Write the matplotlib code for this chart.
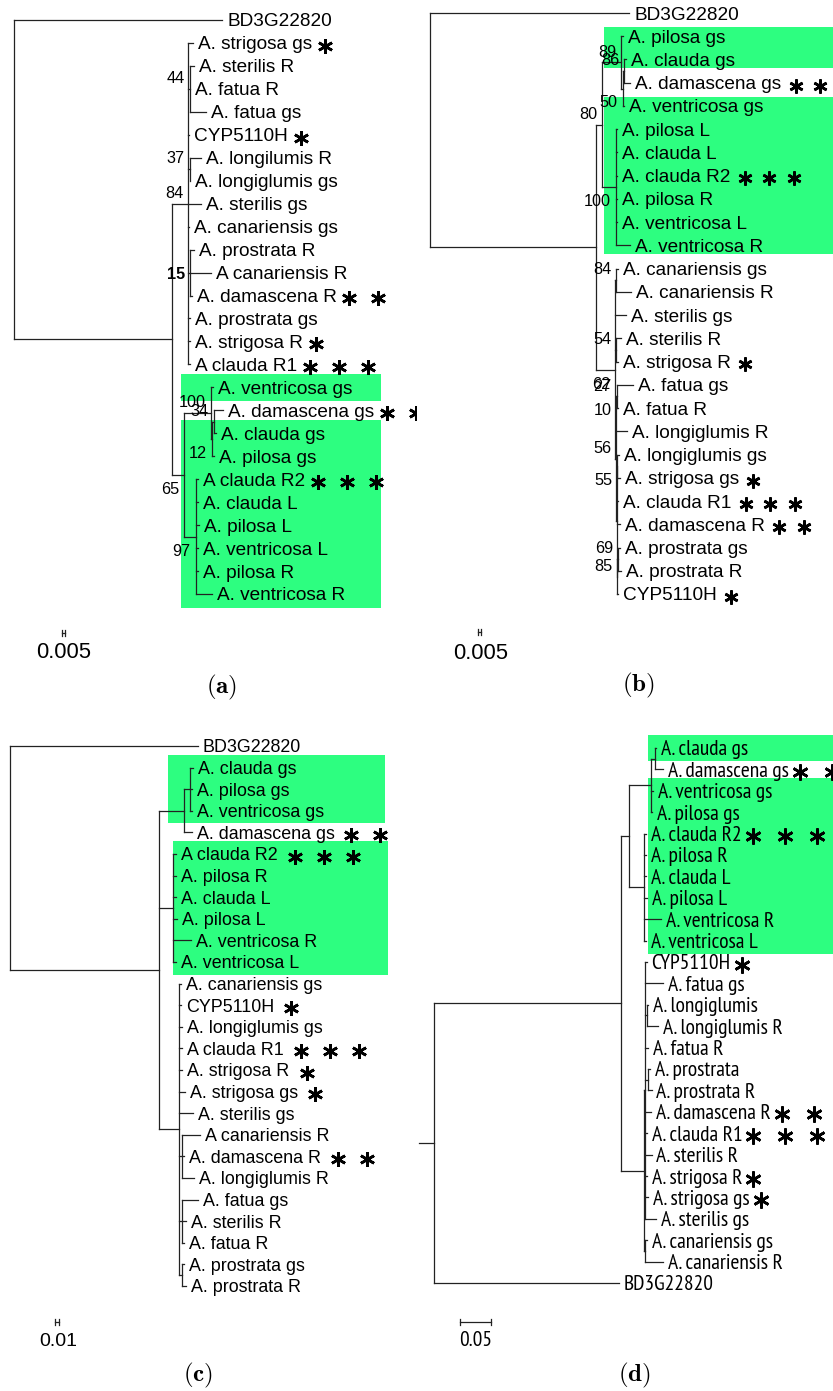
import matplotlib
matplotlib.use('Agg')
import matplotlib.pyplot as plt
import matplotlib.transforms as mtransforms
from matplotlib.collections import LineCollection
from matplotlib.patches import Rectangle

plt.rcParams['mathtext.fontset'] = 'cm'

## Trees (Newick, top-to-bottom leaf order, branch lengths in substitutions/site)
TREE_A = ("('BD3G22820':0.347,"
          "(('A. strigosa gs':0.008,('A. sterilis R':0.007,'A. fatua R':0.000,'A. fatua gs':0.027)44:0.003,"
          "'CYP5110H':0.002,('A. longilumis R':0.018,'A. longiglumis gs':0.000)37:0.003,"
          "'A. sterilis gs':0.022,'A. canariensis gs':0.002,"
          "('A. prostrata R':0.007,'A canariensis R':0.035,'A. damascena R':0.003)15:0.003,"
          "'A. prostrata gs':0.003,'A. strigosa R':0.003,'A clauda R1':0.003)84:0.027,"
          "(('A. ventricosa gs':0.003,(('A. damascena gs':0.015,'A. clauda gs':0.003)34:0.003,'A. pilosa gs':0.003)12:0.002)100:0.045,"
          "('A clauda R2':0.003,'A. clauda L':0.003,'A. pilosa L':0.005,'A. ventricosa L':0.003,"
          "'A. pilosa R':0.003,'A. ventricosa R':0.027)97:0.020)65:0.020):0.263);")

TREE_B = ("('BD3G22820':0.332,"
          "((('A. pilosa gs':0.002,(('A. clauda gs':0.003,'A. damascena gs':0.010)86:0.003,'A. ventricosa gs':0.002)50:0.002)89:0.032,"
          "('A. pilosa L':0.002,'A. clauda L':0.002,'A. clauda R2':0.002,'A. pilosa R':0.002,"
          "'A. ventricosa L':0.002,'A. ventricosa R':0.023)100:0.023)80:0.010,"
          "(('A. canariensis gs':0.003,'A. canariensis R':0.025)84:0.001,'A. sterilis gs':0.017,"
          "('A. sterilis R':0.008,'A. strigosa R':0.003)54:0.001,"
          "(('A. fatua gs':0.027,'A. fatua R':0.003)27|10:0.001,'A. longiglumis R':0.018,"
          "(('A. longiglumis gs':0.003,'A. strigosa gs':0.004)55:0.001,'A. clauda R1':0.003,'A. damascena R':0.006,"
          "(('A. prostrata gs':0.004,'A. prostrata R':0.006)69:0.001,'CYP5110H':0.002)85:0.001):0.001)56:0.001)62:0.032):0.277);")

TREE_C = ("('BD3G22820':0.470,"
          "((('A. clauda gs':0.008,'A. pilosa gs':0.005,'A. ventricosa gs':0.005):0.013,'A. damascena gs':0.018):0.063,"
          "('A clauda R2':0.008,'A. pilosa R':0.008,'A. clauda L':0.008,'A. pilosa L':0.010,"
          "'A. ventricosa R':0.045,'A. ventricosa L':0.008):0.035,"
          "('A. canariensis gs':0.005,'CYP5110H':0.005,'A. longiglumis gs':0.008,'A clauda R1':0.008,"
          "'A. strigosa R':0.008,'A. strigosa gs':0.015,'A. sterilis gs':0.035,"
          "('A canariensis R':0.045,'A. damascena R':0.005,'A. longiglumis R':0.028):0.008,"
          "('A. fatua gs':0.040,'A. sterilis R':0.010,'A. fatua R':0.005):0.008,"
          "('A. prostrata gs':0.005,'A. prostrata R':0.010):0.008):0.050):0.373);")

TREE_D = ("((((('A. clauda gs':0.003,'A. damascena gs':0.013):0.006,'A. ventricosa gs':0.003,'A. pilosa gs':0.002):0.035,"
          "('A. clauda R2':0.003,'A. pilosa R':0.003,'A. clauda L':0.003,'A. pilosa L':0.005,"
          "'A. ventricosa R':0.027,'A. ventricosa L':0.003):0.024):0.013,"
          "(('CYP5110H':0.003,'A. fatua gs':0.029,('A. longiglumis':0.003,'A. longiglumis R':0.018):0.003,"
          "'A. fatua R':0.005,('A. prostrata':0.002,'A. prostrata R':0.005):0.006,'A. damascena R':0.010,"
          "'A. clauda R1':0.003,'A. sterilis R':0.011,'A. strigosa R':0.003,'A. strigosa gs':0.006,"
          "'A. sterilis gs':0.019):0.001,"
          "('A. canariensis gs':0.002,'A. canariensis R':0.029):0.002):0.037):0.302,"
          "'BD3G22820':0.298):0.024;")

## number of significance stars per sequence
STARS = {'A. strigosa gs': 1, 'A. strigosa R': 1, 'CYP5110H': 1,
         'A. damascena gs': 2, 'A. damascena R': 2,
         'A clauda R1': 3, 'A. clauda R1': 3, 'A clauda R2': 3, 'A. clauda R2': 3}

GREEN = '#2dfe80'
LINE = '#222222'
SANS = ['Liberation Sans', 'DejaVu Sans']
NARROW = ['PT Sans Narrow', 'Liberation Sans', 'DejaVu Sans']

## layout of each panel (pixels in the 833x1391 figure)
PANELS = {
    'a': dict(tree=TREE_A, box=(0, 0, 416, 700), root_px=14, row0=20, row_h=22.96, ppu=600,
              font=SANS, size=13.7, sup_size=11.7, below={'12', '65', '97'}, center={'15'},
              scale=0.005, bar=(62, 633), lbl=(64, 653), lbl_size=15.8, caption=(222, 687),
              hl=[('A. ventricosa gs', 'A. ventricosa gs', 0.435, 0.916),
                  ('A. clauda gs', 'A. ventricosa R', 0.435, 0.916)], pad=0.6,
              star=(13, 29, 15)),
    'b': dict(tree=TREE_B, box=(416, 0, 417, 700), root_px=430, row0=13, row_h=23.24, ppu=600,
              font=SANS, size=13.7, sup_size=11.7, below={'50', '100', '62', '55'}, center=set(),
              scale=0.005, bar=(478, 632), lbl=(481, 653), lbl_size=15.8, caption=(638, 685),
              hl=[('A. pilosa gs', 'A. clauda gs', 0.451, 1.0),
                  ('A. ventricosa gs', 'A. ventricosa R', 0.451, 1.0)], pad=0.38,
              star=(14, 24.5, 14)),
    'c': dict(tree=TREE_C, box=(0, 720, 416, 671), root_px=10, row0=746, row_h=21.6, ppu=400,
              font=SANS, size=12.9, sup_size=11.0, below=set(), center=set(),
              scale=0.01, bar=(55, 1322), lbl=(58, 1342), lbl_size=14, caption=(198, 1375),
              hl=[('A. clauda gs', 'A. ventricosa gs', 0.404, 0.925),
                  ('A clauda R2', 'A. ventricosa L', 0.416, 0.933)], pad=0.58,
              star=(17, 29, 15)),
    'd': dict(tree=TREE_D, box=(416, 720, 417, 671), root_px=419, row0=748, row_h=21.4, ppu=620,
              font=NARROW, size=15.5, sup_size=11.0, below=set(), center=set(),
              scale=0.05, bar=(460, 1322), lbl=(476, 1341), lbl_size=15.5, caption=(634, 1375),
              hl=[('A. clauda gs', 'A. clauda gs', 0.556, 1.0),
                  ('A. ventricosa gs', 'A. ventricosa L', 0.556, 1.0)], pad=0.62,
              star=(11, 32, 16)),
}

FIG_W, FIG_H = 833, 1391


## Newick parsing
def parse_newick(s):
    pos = 0

    def node():
        nonlocal pos
        n = {'children': [], 'name': '', 'len': 0.0, 'sup': ''}
        if s[pos] == '(':
            pos += 1
            while True:
                n['children'].append(node())
                if s[pos] == ',':
                    pos += 1
                    continue
                pos += 1
                break
            start = pos
            while s[pos] not in ':,);':
                pos += 1
            n['sup'] = s[start:pos]
        elif s[pos] == "'":
            end = s.index("'", pos + 1)
            n['name'] = s[pos + 1:end]
            pos = end + 1
        if s[pos] == ':':
            pos += 1
            start = pos
            while s[pos] not in ',);':
                pos += 1
            n['len'] = float(s[start:pos])
        return n

    return node()


def layout(n, x0, leaves):
    n['x'] = x0 + n['len']
    if n['children']:
        for c in n['children']:
            layout(c, n['x'], leaves)
        n['y'] = (n['children'][0]['y'] + n['children'][-1]['y']) / 2
    else:
        n['y'] = len(leaves)
        leaves.append(n)


def collect(n, segs, nodes):
    for c in n['children']:
        segs.append([(n['x'], c['y']), (c['x'], c['y'])])
        collect(c, segs, nodes)
    if n['children']:
        segs.append([(n['x'], n['children'][0]['y']), (n['x'], n['children'][-1]['y'])])
        nodes.append(n)


def draw_panel(fig, key, p):
    left, top, w, h = p['box']
    ax = fig.add_axes([left / FIG_W, 1 - (top + h) / FIG_H, w / FIG_W, h / FIG_H])
    ppu, row0, rh = p['ppu'], p['row0'], p['row_h']
    rx = (p['root_px'] - left) / ppu
    ax.set_xlim(-rx, w / ppu - rx)
    ax.set_ylim((top + h - row0) / rh, (top - row0) / rh)
    ax.axis('off')

    root = parse_newick(p['tree'])
    leaves = []
    layout(root, 0.0, leaves)
    segs, nodes = [], []
    if root['len'] > 0:
        segs.append([(0, root['y']), (root['x'], root['y'])])
    collect(root, segs, nodes)

    # highlighted clades
    names = [l['name'] for l in leaves]
    blend = mtransforms.blended_transform_factory(ax.transAxes, ax.transData)
    for first, last, fx0, fx1 in p['hl']:
        i0, i1 = names.index(first), names.index(last)
        ax.add_patch(Rectangle((fx0, i0 - p['pad']), fx1 - fx0, i1 - i0 + 2 * p['pad'],
                               transform=blend, facecolor=GREEN, edgecolor='none', zorder=0))

    ax.add_collection(LineCollection(segs, colors=LINE, linewidths=0.9,
                                     capstyle='projecting', zorder=2))

    # leaf labels
    arts = []
    for l in leaves:
        t = ax.annotate(l['name'], (l['x'], l['y']), xytext=(3.6, 0), textcoords='offset points',
                        ha='left', va='center_baseline', fontsize=p['size'], family=p['font'],
                        color='black', zorder=3)
        arts.append((l, t))

    # bootstrap values
    for n in nodes:
        if not n['sup']:
            continue
        parts = n['sup'].split('|')
        for k, s in enumerate(parts):
            if k == 1 or s in p['below']:
                off, va = (-3.6, -5.0), 'top'
            elif s in p['center']:
                off, va = (-3.6, 0), 'center_baseline'
            else:
                off, va = (-3.6, 2.0), 'bottom'
            ax.annotate(s, (n['x'], n['y']), xytext=off, textcoords='offset points',
                        ha='right', va=va, fontsize=p['sup_size'], family=p['font'],
                        fontweight='bold' if s in p['center'] else 'normal', zorder=3)

    # scale bar
    xs = (p['bar'][0] - p['root_px']) / ppu
    yb = (p['bar'][1] - row0) / rh
    tick = 3.0 / rh
    ax.plot([xs, xs + p['scale']], [yb, yb], color=LINE, lw=0.9)
    ax.plot([xs, xs], [yb - tick, yb + tick], color=LINE, lw=0.9)
    ax.plot([xs + p['scale'], xs + p['scale']], [yb - tick, yb + tick], color=LINE, lw=0.9)
    ax.text((p['lbl'][0] - p['root_px']) / ppu, (p['lbl'][1] - row0) / rh, f"{p['scale']:g}",
            ha='center', va='center', fontsize=p['lbl_size'], family=p['font'])

    fig.text(p['caption'][0] / FIG_W, 1 - p['caption'][1] / FIG_H, r'$\mathbf{(%s)}$' % key,
             ha='center', va='center', fontsize=18)
    return ax, arts


fig = plt.figure(figsize=(FIG_W / 100, FIG_H / 100), dpi=100)
drawn = {k: draw_panel(fig, k, p) for k, p in PANELS.items()}

## significance stars placed right after each label
fig.canvas.draw()
renderer = fig.canvas.get_renderer()
for k, (ax, arts) in drawn.items():
    gap, step, size = PANELS[k]['star']
    for leaf, t in arts:
        count = STARS.get(leaf['name'], 0)
        if not count:
            continue
        bb = t.get_window_extent(renderer)
        yd = ax.transData.transform((0, leaf['y'] + 0.12))[1]
        pts = ax.transData.inverted().transform([(bb.x1 + gap + i * step, yd) for i in range(count)])
        ax.plot(pts[:, 0], pts[:, 1], ls='none', marker=(6, 2, 0), ms=size * 0.72,
                mew=1.9, color='black', zorder=4)

fig.savefig('out.png', dpi=100)
